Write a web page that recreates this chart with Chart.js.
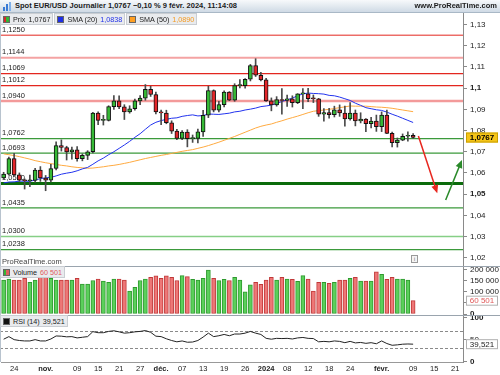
<!DOCTYPE html>
<html lang="fr">
<head>
<meta charset="UTF-8">
<title>Spot EUR/USD Journalier</title>
<script src="https://cdn.jsdelivr.net/npm/chart.js"></script>
<style>
  body { margin: 0; background: #fff; font-family: "Liberation Sans", Arial, sans-serif; }
  #wrap { position: relative; width: 500px; height: 375px; overflow: hidden; }
  #chart { position: absolute; left: 0; top: 0; }
  .titlebar {
    position: absolute; left: 0; top: 0; width: 500px; height: 12px;
    background: linear-gradient(#f7f9fb, #cfdae5); border-bottom: 1px solid #a9b8c6;
    font-size: 7.5px; font-weight: bold; line-height: 12px; color: #1b1b1b;
  }
  .titlebar .ttl { position: absolute; left: 15px; top: 0; }
  .titlebar .site { position: absolute; right: 3px; top: 0; }
  .titlebar svg { position: absolute; left: 3px; top: 2px; }
  .legend { position: absolute; left: 0; display: flex; gap: 1px; }
  .legend span.box {
    display: flex; align-items: center; height: 10px; padding: 0 2px 0 2px;
    background: #e9ebee; border: 1px solid #c9cdd2; font-size: 7.2px; color: #222; white-space: nowrap;
  }
  .sw { display: inline-block; width: 5px; height: 5px; border: 1px solid #666; margin-right: 3px; }
  .val { margin-left: 3px; }
  .wm { position: absolute; left: 2px; top: 257px; font-size: 7.5px; color: #444; }
  .info { position: absolute; left: 411px; top: 255px; width: 5px; height: 6px; border: 1px solid #999;
          font-size: 5px; line-height: 6px; text-align: center; color: #666; background: #f4f4f4; }
</style>
</head>
<body>
<div id="wrap">
  <canvas id="chart" width="500" height="375"></canvas>
  <div class="titlebar">
    <svg width="10" height="9"><rect x="0" y="5" width="2" height="4" fill="#3a7bd5"/><rect x="3" y="2" width="2" height="7" fill="#3a7bd5"/><rect x="6" y="0" width="2" height="9" fill="#7fb0ea"/></svg>
    <span class="ttl">Spot EUR/USD Journalier 1,0767 −0,10 % 9 févr. 2024, 11:14:08</span>
    <span class="site">www.ProRealTime.com</span>
  </div>
  <div class="legend" style="top:13px">
    <span class="box"><i class="sw" style="background:linear-gradient(90deg,#d8262a 50%,#33b533 50%)"></i>Prix<span class="val">1,0767</span></span>
    <span class="box"><i class="sw" style="background:#1f2fe6"></i>SMA (20)<span class="val" style="color:#2030e8">1,0838</span></span>
    <span class="box"><i class="sw" style="background:#ff9f22"></i>SMA (50)<span class="val" style="color:#f59a20">1,0890</span></span>
  </div>
  <div class="wm">ProRealTime.com</div>
  <div class="info">i</div>
  <div class="legend" style="top:266px">
    <span class="box"><i class="sw" style="background:linear-gradient(90deg,#33b533 50%,#e06060 50%)"></i>Volume<span class="val" style="color:#e05a5a">60 501</span></span>
  </div>
  <div class="legend" style="top:315px">
    <span class="box"><i class="sw" style="background:#111"></i>RSI (14)<span class="val">39,521</span></span>
  </div>
</div>

<script>
// trading days (last ones are future slots on the axis)
const days = [
  '2023-10-20','2023-10-23','2023-10-24','2023-10-25','2023-10-26','2023-10-27','2023-10-30','2023-10-31',
  '2023-11-01','2023-11-02','2023-11-03','2023-11-06','2023-11-07','2023-11-08','2023-11-09','2023-11-10',
  '2023-11-13','2023-11-14','2023-11-15','2023-11-16','2023-11-17','2023-11-20','2023-11-21','2023-11-22',
  '2023-11-23','2023-11-24','2023-11-27','2023-11-28','2023-11-29','2023-11-30','2023-12-01','2023-12-04',
  '2023-12-05','2023-12-06','2023-12-07','2023-12-08','2023-12-11','2023-12-12','2023-12-13','2023-12-14',
  '2023-12-15','2023-12-18','2023-12-19','2023-12-20','2023-12-21','2023-12-22','2023-12-26','2023-12-27',
  '2023-12-28','2023-12-29','2024-01-02','2024-01-03','2024-01-04','2024-01-05','2024-01-08','2024-01-09',
  '2024-01-10','2024-01-11','2024-01-12','2024-01-15','2024-01-16','2024-01-17','2024-01-18','2024-01-19',
  '2024-01-22','2024-01-23','2024-01-24','2024-01-25','2024-01-26','2024-01-29','2024-01-30','2024-01-31',
  '2024-02-01','2024-02-02','2024-02-05','2024-02-06','2024-02-07','2024-02-08','2024-02-09','2024-02-12',
  '2024-02-13','2024-02-14','2024-02-15','2024-02-16','2024-02-19','2024-02-20','2024-02-21','2024-02-22'
];

const tickDates = ['2023-10-24','2023-11-01','2023-11-09','2023-11-15','2023-11-21','2023-11-27','2023-12-01',
  '2023-12-07','2023-12-13','2023-12-19','2023-12-26','2024-01-02','2024-01-08','2024-01-12','2024-01-18',
  '2024-01-24','2024-02-01','2024-02-09','2024-02-15','2024-02-21'];
const tickTexts = ['24','nov.','09','15','21','27','déc.','07','13','19','26','2024','08','12','18','24','févr.','09','15','21'];
const boldTicks = ['nov.','déc.','2024','févr.'];

const priceTicks = [1.02, 1.03, 1.04, 1.05, 1.06, 1.07, 1.08, 1.09, 1.10, 1.11, 1.12, 1.13];
const volumeTicks = [0, 50000, 100000, 150000, 200000];
const rsiTicks = [0, 50, 100];

const opens = [
  1.0577,1.0594,1.0668,1.0591,1.0566,1.0563,1.0565,1.0614,1.0576,1.0566,
  1.0621,1.0729,1.0720,1.0699,1.0709,1.0667,1.0683,1.0700,1.0882,1.0848,
  1.0848,1.0913,1.0940,1.0912,1.0888,1.0903,1.0940,1.0953,1.0994,1.0970,
  1.0888,1.0883,1.0837,1.0797,1.0763,1.0793,1.0762,1.0763,1.0794,1.0872,
  1.0989,1.0896,1.0922,1.0981,1.0943,1.1012,1.1012,1.1042,1.1106,1.1061,
  1.1039,1.0940,1.0921,1.0946,1.0942,1.0950,1.0931,1.0973,1.0973,1.0951,
  1.0950,1.0877,1.0885,1.0875,1.0898,1.0883,1.0855,1.0883,1.0845,1.0854,
  1.0832,1.0845,1.0818,1.0873,1.0787,1.0743,1.0755,1.0773,1.0778
];
const highs = [
  1.0603,1.0675,1.0693,1.0600,1.0572,1.0590,1.0622,1.0630,1.0588,1.0640,
  1.0747,1.0756,1.0726,1.0722,1.0724,1.0690,1.0705,1.0886,1.0888,1.0872,
  1.0917,1.0965,1.0964,1.0922,1.0917,1.0949,1.0965,1.1017,1.1009,1.0982,
  1.0896,1.0896,1.0846,1.0806,1.0800,1.0804,1.0779,1.0807,1.0895,1.1009,
  1.0992,1.0938,1.0988,1.0984,1.1021,1.1040,1.1045,1.1112,1.1139,1.1075,
  1.1046,1.0954,1.0960,1.0998,1.0967,1.0964,1.0974,1.0998,1.0999,1.0968,
  1.0952,1.0904,1.0905,1.0915,1.0921,1.0916,1.0932,1.0897,1.0884,1.0856,
  1.0862,1.0873,1.0888,1.0897,1.0793,1.0765,1.0784,1.0794,1.0786
];
const lows = [
  1.0570,1.0590,1.0588,1.0560,1.0524,1.0535,1.0555,1.0560,1.0516,1.0557,
  1.0614,1.0703,1.0661,1.0665,1.0656,1.0657,1.0663,1.0695,1.0828,1.0826,
  1.0845,1.0900,1.0903,1.0852,1.0882,1.0896,1.0922,1.0943,1.0961,1.0879,
  1.0828,1.0832,1.0786,1.0757,1.0757,1.0723,1.0744,1.0742,1.0772,1.0861,
  1.0888,1.0888,1.0912,1.0941,1.0938,1.1001,1.1000,1.1034,1.1055,1.1034,
  1.0937,1.0893,1.0915,1.0877,1.0914,1.0911,1.0927,1.0903,1.0936,1.0932,
  1.0867,1.0844,1.0858,1.0864,1.0867,1.0821,1.0849,1.0822,1.0836,1.0795,
  1.0812,1.0796,1.0795,1.0785,1.0723,1.0722,1.0752,1.0750,1.0763
];
const closes = [
  1.0594,1.0668,1.0591,1.0566,1.0563,1.0565,1.0614,1.0576,1.0566,1.0621,
  1.0729,1.0720,1.0699,1.0709,1.0667,1.0683,1.0700,1.0882,1.0848,1.0848,
  1.0913,1.0940,1.0912,1.0888,1.0903,1.0940,1.0953,1.0994,1.0970,1.0888,
  1.0883,1.0837,1.0797,1.0763,1.0793,1.0762,1.0763,1.0794,1.0872,1.0989,
  1.0896,1.0922,1.0981,1.0943,1.1012,1.1012,1.1042,1.1106,1.1061,1.1039,
  1.0940,1.0921,1.0946,1.0942,1.0950,1.0931,1.0973,1.0973,1.0951,1.0950,
  1.0877,1.0885,1.0875,1.0898,1.0883,1.0855,1.0883,1.0845,1.0854,1.0832,
  1.0845,1.0818,1.0873,1.0787,1.0743,1.0755,1.0773,1.0778,1.0767
];

const sma20 = [
  1.0553,1.0557,1.0558,1.0561,1.0561,1.0560,1.0567,1.0573,1.0577,1.0579,
  1.0586,1.0594,1.0599,1.0603,1.0610,1.0619,1.0626,1.0641,1.0657,1.0670,
  1.0686,1.0700,1.0716,1.0732,1.0749,1.0768,1.0785,1.0806,1.0826,1.0839,
  1.0847,1.0853,1.0858,1.0860,1.0867,1.0871,1.0874,1.0869,1.0871,1.0878,
  1.0877,1.0876,1.0879,1.0882,1.0888,1.0891,1.0897,1.0901,1.0906,1.0913,
  1.0916,1.0920,1.0928,1.0937,1.0945,1.0953,1.0964,1.0973,1.0977,1.0975,
  1.0974,1.0972,1.0966,1.0964,1.0958,1.0950,1.0942,1.0929,1.0919,1.0908,
  1.0903,1.0898,1.0895,1.0887,1.0877,1.0868,1.0858,1.0848,1.0838
];
const sma50 = [
  1.0690,1.0686,1.0682,1.0677,1.0671,1.0665,1.0658,1.0653,1.0648,1.0644,
  1.0640,1.0636,1.0633,1.0629,1.0626,1.0624,1.0622,1.0623,1.0626,1.0629,
  1.0633,1.0636,1.0640,1.0645,1.0650,1.0656,1.0662,1.0668,1.0673,1.0678,
  1.0683,1.0687,1.0692,1.0697,1.0702,1.0706,1.0710,1.0716,1.0722,1.0729,
  1.0737,1.0745,1.0754,1.0763,1.0772,1.0782,1.0792,1.0802,1.0812,1.0820,
  1.0826,1.0831,1.0839,1.0846,1.0854,1.0861,1.0868,1.0876,1.0884,1.0891,
  1.0894,1.0897,1.0900,1.0904,1.0908,1.0912,1.0916,1.0915,1.0915,1.0915,
  1.0913,1.0911,1.0910,1.0908,1.0905,1.0901,1.0897,1.0893,1.0889
];

const volumes = [
  154000,159000,154000,154000,162000,144000,154000,170000,170000,162000,
  154000,154000,154000,154000,162000,136000,136000,152000,159000,150000,
  144000,159000,159000,154000,104000,121000,152000,159000,167000,173000,
  162000,173000,167000,152000,174000,170000,158000,154000,162000,200000,
  162000,152000,158000,152000,167000,154000,101000,132000,144000,135000,
  154000,167000,154000,167000,159000,158000,148000,174000,159000,104000,
  144000,144000,139000,144000,154000,154000,162000,167000,150000,150000,
  150000,192000,180000,158000,167000,159000,159000,154000,60501
];

const rsi = [
  51,57,50,48,47,47,50,47,47,51.5,
  58.5,58,56.5,57,54,55.5,57,68.5,66,66,
  69,70.5,68,65,66,68,69,71,67,58,
  57,52,48,45,47,44,44.5,48,56,65,
  57,59,62,59,63,63,65,69,65,62,
  53,51,53,52.5,53,51.5,54,55,53,52.5,
  45,46,45,47,46,43,46,42.5,43.5,41.5,
  43,40.5,47,41,37,38,39.5,40,39.521
];
const rsiBands = [70, 30];

// support / resistance levels drawn across the price panel
const levels = [1.1250, 1.1144, 1.1069, 1.1012, 1.0940, 1.0762, 1.0693, 1.0550, 1.0435, 1.0300, 1.0238];
const levelColors = ['#e3261f','#f4a3a3','#e3261f','#e3261f','#f39a9a','#3b9a3b','#3b9a3b','#0b6b0b','#3b9a3b','#86cf86','#3b9a3b'];
const levelWidths = [1, 2, 1.3, 1.3, 2.5, 1.2, 1.2, 3, 1.2, 1.6, 1.2];

// projection arrows (index on the time axis, price)
const arrowFromX = [79, 84.2];
const arrowFromY = [1.0774, 1.0472];
const arrowToX = [82.6, 87.3];
const arrowToY = [1.0504, 1.0661];
const arrowColors = ['#e8261e', '#2a8a2a'];

const FONT = '"Liberation Sans", Arial, sans-serif';
const GREEN = '#36b936';
const RED = '#e3262a';
const up = closes.map((c, i) => c >= opens[i]);

const frNum = v => String(v).replace(/\B(?=(\d{3})+(?!\d))/g, ' ');

function tag(ctx, x, y, text, fill, stroke, color, bold) {
  ctx.save();
  ctx.fillStyle = fill;
  ctx.strokeStyle = stroke;
  ctx.lineWidth = 1;
  ctx.fillRect(x, y - 5, 32, 10);
  ctx.strokeRect(x + 0.5, y - 4.5, 31, 9);
  ctx.fillStyle = color;
  ctx.font = (bold ? 'bold ' : '') + '8px ' + FONT;
  ctx.textBaseline = 'middle';
  ctx.textAlign = 'center';
  ctx.fillText(text, x + 16, y + 0.5);
  ctx.restore();
}

const overlay = {
  id: 'overlay',
  beforeDatasetsDraw(chart) {
    const { ctx, chartArea, scales } = chart;
    const yP = scales.yP, yR = scales.yR;
    ctx.save();
    levels.forEach((v, i) => {
      const y = yP.getPixelForValue(v);
      ctx.strokeStyle = levelColors[i];
      ctx.lineWidth = levelWidths[i];
      ctx.beginPath();
      ctx.moveTo(0, y);
      ctx.lineTo(chartArea.right, y);
      ctx.stroke();
      ctx.fillStyle = '#222';
      ctx.font = '7.5px ' + FONT;
      ctx.textBaseline = 'bottom';
      ctx.fillText(v.toFixed(4).replace('.', ','), 2, y - 1.5);
    });
    ctx.setLineDash([3, 2]);
    ctx.strokeStyle = '#8a8a8a';
    ctx.lineWidth = 1;
    rsiBands.forEach(v => {
      const y = Math.round(yR.getPixelForValue(v)) + 0.5;
      ctx.beginPath();
      ctx.moveTo(0, y);
      ctx.lineTo(chartArea.right, y);
      ctx.stroke();
    });
    ctx.restore();
  },
  afterDatasetsDraw(chart) {
    const { ctx, scales } = chart;
    const x = scales.x, yP = scales.yP;
    ctx.save();
    arrowFromX.forEach((fx, i) => {
      const x0 = x.getPixelForValue(fx), y0 = yP.getPixelForValue(arrowFromY[i]);
      const x1 = x.getPixelForValue(arrowToX[i]), y1 = yP.getPixelForValue(arrowToY[i]);
      const a = Math.atan2(y1 - y0, x1 - x0);
      ctx.strokeStyle = arrowColors[i];
      ctx.fillStyle = arrowColors[i];
      ctx.lineWidth = 1.5;
      ctx.beginPath();
      ctx.moveTo(x0, y0);
      ctx.lineTo(x1 - 5 * Math.cos(a), y1 - 5 * Math.sin(a));
      ctx.stroke();
      ctx.beginPath();
      ctx.moveTo(x1, y1);
      ctx.lineTo(x1 - 8 * Math.cos(a) + 3.5 * Math.sin(a), y1 - 8 * Math.sin(a) - 3.5 * Math.cos(a));
      ctx.lineTo(x1 - 8 * Math.cos(a) - 3.5 * Math.sin(a), y1 - 8 * Math.sin(a) + 3.5 * Math.cos(a));
      ctx.closePath();
      ctx.fill();
    });
    ctx.restore();
  },
  afterDraw(chart) {
    const { ctx, chartArea, scales } = chart;
    ctx.save();
    ctx.strokeStyle = '#9aa4ae';
    ctx.lineWidth = 1;
    [scales.yV.top, scales.yR.top].forEach(t => {
      ctx.beginPath();
      ctx.moveTo(0, Math.round(t) + 0.5);
      ctx.lineTo(500, Math.round(t) + 0.5);
      ctx.stroke();
    });
    ctx.strokeStyle = '#b8c3ce';
    ctx.beginPath();
    ctx.moveTo(0.5, chartArea.top);
    ctx.lineTo(0.5, chartArea.bottom);
    ctx.stroke();
    ctx.restore();
    const last = closes.length - 1;
    tag(ctx, 466, scales.yP.getPixelForValue(closes[last]), closes[last].toFixed(4).replace('.', ','), '#f5c518', '#c9a000', '#000', true);
    tag(ctx, 466, scales.yV.getPixelForValue(volumes[last]), frNum(volumes[last]), '#fff', '#b0b0b0', '#e05a5a', false);
    tag(ctx, 466, scales.yR.getPixelForValue(rsi[last]), rsi[last].toFixed(3).replace('.', ','), '#fff', '#b0b0b0', '#222', false);
  }
};

function yAxis(weight, min, max, tickValues, fmt, isBold) {
  return {
    position: 'right',
    stack: 'panels',
    stackWeight: weight,
    min: min,
    max: max,
    border: { display: true, color: '#8a8a8a' },
    grid: { display: true, drawOnChartArea: false, drawTicks: true, tickLength: 4, color: '#8a8a8a' },
    ticks: {
      autoSkip: false, padding: 3, color: '#222',
      font: c => ({ family: FONT, size: 8, weight: c.tick && isBold(c.tick.value) ? 'bold' : 'normal' }),
      callback: fmt
    },
    afterBuildTicks(s) { s.ticks = tickValues.map(v => ({ value: v })); },
    afterFit(s) { s.width = 37; }
  };
}

new Chart(document.getElementById('chart'), {
  type: 'bar',
  data: {
    labels: days,
    datasets: [
      {
        label: 'Mèche', data: lows.map((l, i) => [l, highs[i]]), yAxisID: 'yP',
        grouped: false, barThickness: 1, backgroundColor: '#4a4a4a', order: 2
      },
      {
        label: 'Prix', data: opens.map((o, i) => [o, closes[i]]), yAxisID: 'yP',
        grouped: false, barThickness: 4, minBarLength: 1, borderSkipped: false, borderWidth: 1,
        borderColor: '#111', backgroundColor: up.map(u => u ? GREEN : RED), order: 1
      },
      {
        type: 'line', label: 'SMA (20)', data: sma20, yAxisID: 'yP',
        borderColor: '#2233ee', borderWidth: 1, pointRadius: 0, order: 3
      },
      {
        type: 'line', label: 'SMA (50)', data: sma50, yAxisID: 'yP',
        borderColor: '#ffaa40', borderWidth: 1, pointRadius: 0, order: 4
      },
      {
        label: 'Volume', data: volumes, yAxisID: 'yV', grouped: false, barThickness: 4,
        borderWidth: 1, borderSkipped: false,
        backgroundColor: up.map(u => u ? '#5bd05b' : '#ee7777'),
        borderColor: up.map(u => u ? '#2e9a2e' : '#c03838'), order: 5
      },
      {
        type: 'line', label: 'RSI (14)', data: rsi, yAxisID: 'yR',
        borderColor: '#222', borderWidth: 1, pointRadius: 0, order: 5
      }
    ]
  },
  options: {
    responsive: false,
    animation: false,
    events: [],
    layout: { padding: { top: 13, left: 1, right: 0, bottom: 0 } },
    plugins: { legend: { display: false }, tooltip: { enabled: false } },
    scales: {
      x: {
        type: 'category',
        offset: true,
        grid: { display: false, drawTicks: false, tickLength: 0 },
        border: { display: true, color: '#999' },
        ticks: {
          autoSkip: false, maxRotation: 0, minRotation: 0, padding: 2, color: '#222',
          font: c => ({ family: FONT, size: 7.5, weight: c.tick && boldTicks.includes(tickTexts[tickDates.indexOf(days[c.tick.value])]) ? 'bold' : 'normal' }),
          callback: v => tickTexts[tickDates.indexOf(days[v])]
        },
        afterBuildTicks(s) { s.ticks = tickDates.map(d => ({ value: days.indexOf(d) })); },
        afterFit(s) { s.height = 13; }
      },
      yP: yAxis(253, 1.01608, 1.13547, priceTicks,
        v => String(+v.toFixed(2)).replace('.', ','),
        v => Math.abs(v - 1.1) < 1e-6 || Math.abs(v - 1.05) < 1e-6),
      yV: yAxis(49, -4500, 218000, volumeTicks,
        v => v === 50000 ? '' : frNum(v),
        v => v === 0),
      yR: yAxis(47, -1.6, 106.9, rsiTicks,
        v => String(v),
        v => v !== 50)
    }
  },
  plugins: [overlay]
});
</script>
</body>
</html>
